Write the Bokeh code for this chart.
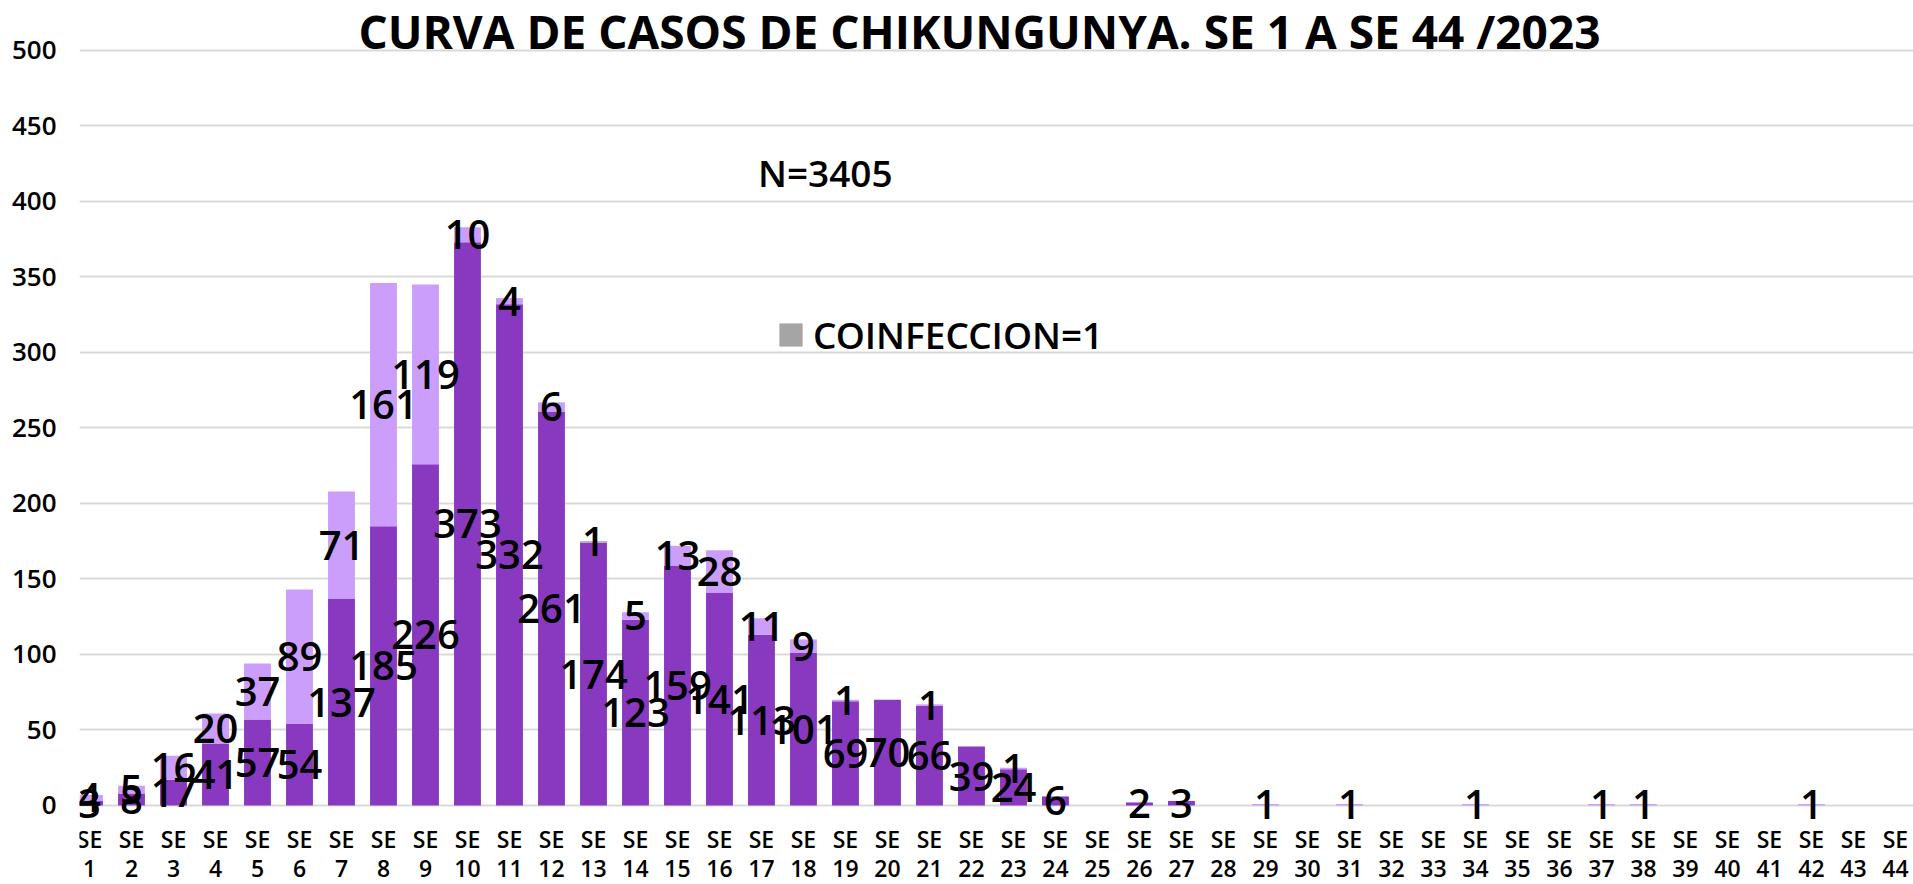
from bokeh.plotting import figure
from bokeh.models import ColumnDataSource, FixedTicker, Label, Legend, LegendItem, Range1d
from bokeh.core.properties import value
from bokeh.embed import file_html
from bokeh.resources import INLINE

# ---- data ----
weeks = list(range(1, 45))
casos = [3, 8, 17, 41, 57, 54, 137, 185, 226, 373, 332, 261, 174, 123, 159, 141, 113, 101,
         69, 70, 66, 39, 24, 6, 0, 2, 3, 0, 0, 0, 0, 0, 0, 0, 0, 0, 0, 0, 0, 0, 0, 0, 0, 0]
casos_b = [4, 5, 16, 20, 37, 89, 71, 161, 119, 10, 4, 6, 0, 5, 13, 28, 11, 9,
           1, 0, 1, 0, 1, 0, 0, 0, 0, 0, 1, 0, 1, 0, 0, 1, 0, 0, 1, 1, 0, 0, 0, 1, 0, 0]
coinfeccion = [0] * 12 + [1] + [0] * 31
y_ticks = [0, 50, 100, 150, 200, 250, 300, 350, 400, 450, 500]
tick_labels = {w: "SE\n%d" % w for w in weeks}
title_text = "CURVA DE CASOS DE CHIKUNGUNYA. SE 1 A SE 44 /2023"
n_text = "N=3405"
legend_text = "COINFECCION=1"

DARK = "#8839C0"
LIGHT = "#CC9EFC"
GREY = "#A5A5A5"
FONT = "Open Sans"
SEMI = "'Open Sans SemiBold', 'Open Sans'"

src = ColumnDataSource(dict(x=weeks, a=casos, b=casos_b, c=coinfeccion))

p = figure(width=1913, height=884, output_backend="svg", toolbar_location=None,
           x_range=Range1d(0.762, 44.43), y_range=Range1d(-52.32, 533.1),
           min_border_left=79, min_border_right=0, min_border_top=0, min_border_bottom=0)
p.outline_line_color = None
p.background_fill_color = "white"
p.border_fill_color = "white"

rs = p.vbar_stack(["a", "b", "c"], x="x", width=0.64, source=src,
                  color=[DARK, LIGHT, GREY], line_color=None)

# data labels, centered in each segment
lx, ly, lt = [], [], []
for i, w in enumerate(weeks):
    base = 0
    for series in (casos, casos_b, coinfeccion):
        v = series[i]
        if v > 0:
            lx.append(w)
            ly.append(base + v / 2)
            lt.append(str(v))
        base += v
lsrc = ColumnDataSource(dict(x=lx, y=ly, t=lt))
p.text(x="x", y="y", text="t", source=lsrc, text_align="center", text_baseline="middle",
       text_font=value(SEMI), text_font_size="40px", text_color="black")

# axes
p.xaxis.fixed_location = 0
p.xaxis.ticker = FixedTicker(ticks=weeks)
p.xaxis.major_label_overrides = tick_labels
p.xaxis.axis_line_color = None
p.xaxis.major_tick_line_color = None
p.xaxis.minor_tick_line_color = None
p.xaxis.major_label_text_font = SEMI
p.xaxis.major_label_text_font_size = "23px"
p.xaxis.major_label_text_color = "black"
p.xaxis.major_label_text_line_height = 0.89
p.xaxis.major_label_standoff = 12

p.yaxis.ticker = FixedTicker(ticks=y_ticks)
p.yaxis.axis_line_color = None
p.yaxis.major_tick_line_color = None
p.yaxis.minor_tick_line_color = None
p.yaxis.major_label_text_font = SEMI
p.yaxis.major_label_text_font_size = "26px"
p.yaxis.major_label_text_color = "black"
p.yaxis.major_label_standoff = 17

p.xgrid.grid_line_color = None
p.ygrid.ticker = FixedTicker(ticks=y_ticks)
p.ygrid.grid_line_color = "#D9D9D9"
p.ygrid.grid_line_width = 2

# title and annotations
p.add_layout(Label(x=22.19, y=513.0, text=title_text, text_align="center",
                   text_baseline="middle", text_font=FONT, text_font_size="46px",
                   text_font_style="bold", text_color="black"))
p.add_layout(Label(x=18.52, y=419.2, text=n_text, text_align="center",
                   text_baseline="middle", text_font=SEMI, text_font_size="37px",
                   text_color="black"))

legend = Legend(items=[LegendItem(label=legend_text, renderers=[rs[2]])],
                location=(697, 524), orientation="horizontal",
                padding=0, margin=0, spacing=0,
                glyph_width=29, glyph_height=29, label_standoff=8,
                label_text_font=SEMI, label_text_font_size="37px",
                label_text_color="black",
                border_line_color=None, background_fill_alpha=0)
p.add_layout(legend, "center")

open("out.html", "w").write(file_html(p, INLINE))
